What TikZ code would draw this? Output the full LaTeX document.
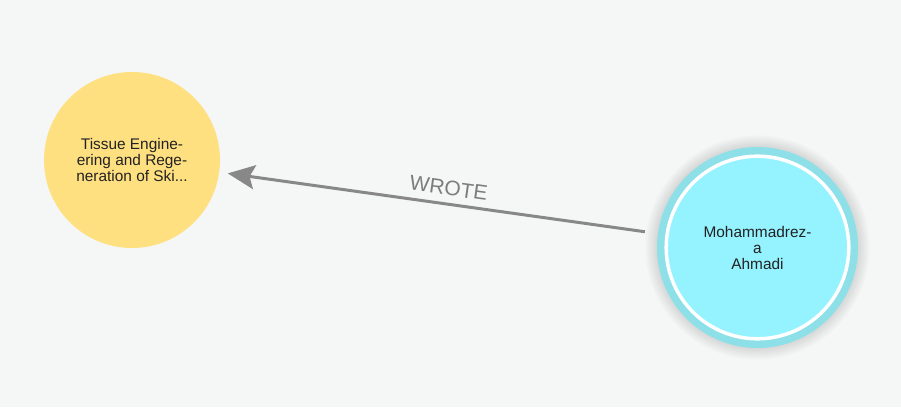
\documentclass[tikz,border=0pt]{standalone}
\usepackage{fontspec}
\setmainfont{Liberation Sans}
\usetikzlibrary{arrows.meta}
\definecolor{nbback}{RGB}{245,246,246}
\definecolor{nbyellow}{RGB}{255,224,129}
\definecolor{nbcyan}{RGB}{149,242,255}
\definecolor{nbring}{RGB}{142,224,232}
\definecolor{nbgray}{RGB}{136,136,136}
\definecolor{nblabel}{RGB}{125,125,125}
\definecolor{nbtext}{RGB}{34,34,34}
\begin{document}
\begin{tikzpicture}[x=1pt, y=1pt,
  entity/.style={circle, inner sep=0pt, align=center, text=nbtext,
    font=\fontsize{15.4}{16}\selectfont},
  rel/.style={{Stealth[length=27pt, width=24pt, inset=5pt]}-, line width=3pt, nbgray}]
% Background
\fill[nbback] (0,0) rectangle (901,407);
\useasboundingbox (0,0) rectangle (901,407);
% Left: Paper
\node[entity, fill=nbyellow, minimum size=176pt] (paper) at (132,247) {Tissue Engine-\\ering and Rege-\\neration of Ski...};
% Right: Author (selected, with halo)
\foreach \r in {102,104,...,112}
  \fill[black, opacity=0.02] (757.5,159.5) circle (\r);
\node[entity, fill=nbring, minimum size=201pt] (ring) at (757.5,159.5) {};
\node[entity, fill=nbcyan, draw=white, line width=3.5pt, minimum size=182.6pt] (author) at (757.5,159.5) {Mohammadrez-\\a\\Ahmadi};
% Relationship
\draw[rel, shorten <=8.5pt, shorten >=13pt] (paper) -- (ring)
  node[pos=0.518, sloped, above=7pt, inner sep=0pt, font=\fontsize{21}{21}\selectfont, text=nblabel] {WROTE};
\end{tikzpicture}
\end{document}
